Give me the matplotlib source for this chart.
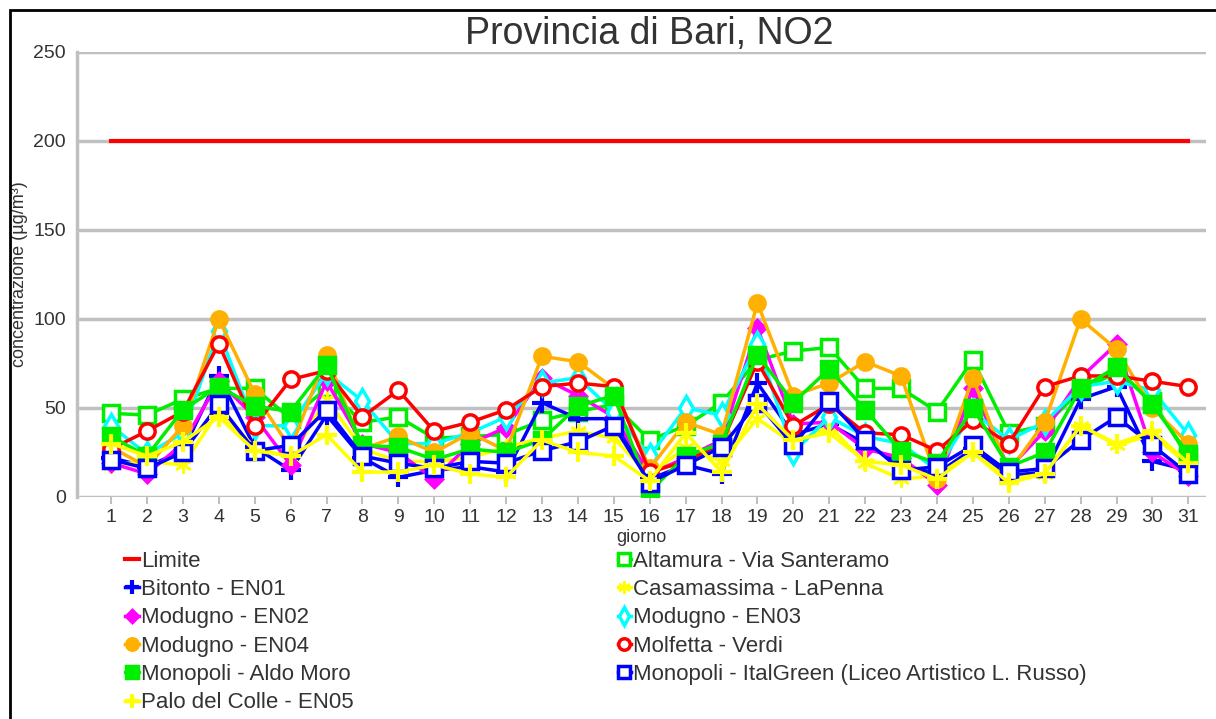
import matplotlib
matplotlib.use('Agg')
import matplotlib.pyplot as plt
from matplotlib.patches import Rectangle
import numpy as np

plt.rcParams['font.family'] = ['Liberation Sans', 'DejaVu Sans']

# Giorni del mese
giorni = np.arange(1, 32)
limite = [200] * 31

altamura = [47, 46, 55, 61, 61, 44, 61, 42, 45, 33, 34, 35, 43, 48, 52, 32,
            40, 53, 77, 82, 84, 61, 61, 48, 77, 36, 40, 60, 70, 54, 22]
bitonto = [22, 17, 26, 68, 28, 15, 46, 22, 11, 15, 17, 14, 53, 44, 44, 10,
           18, 13, 64, 35, 41, 30, 18, 13, 27, 12, 14, 55, 62, 20, 15]
casamassima = [18, 20, 18, 48, 28, 22, 55, 27, 20, 20, 22, 28, 33, 37, 33, 12,
               28, 20, 44, 30, 40, 19, 10, 12, 25, 10, 13, 40, 29, 35, 18]
modugno_en02 = [19, 13, 30, 65, 45, 18, 65, 30, 25, 10, 30, 39, 67, 57, 45, 13,
                22, 32, 95, 41, 42, 27, 22, 7, 61, 16, 37, 67, 86, 25, 12]
modugno_en03 = [40, 24, 36, 93, 40, 40, 70, 54, 30, 30, 36, 45, 64, 67, 48, 23,
                50, 46, 86, 25, 45, 34, 30, 15, 48, 32, 42, 62, 65, 60, 35]
modugno_en04 = [28, 17, 40, 100, 58, 27, 80, 27, 34, 25, 36, 26, 79, 76, 61, 16,
                42, 35, 109, 57, 64, 76, 68, 10, 67, 14, 42, 100, 83, 50, 30]
molfetta = [27, 37, 48, 86, 40, 66, 71, 45, 60, 37, 42, 49, 62, 64, 62, 14,
            20, 30, 76, 40, 52, 36, 35, 26, 43, 30, 62, 68, 68, 65, 62]
monopoli_am = [34, 23, 49, 62, 51, 48, 74, 29, 28, 21, 27, 25, 32, 51, 57, 3,
               23, 30, 80, 53, 72, 49, 26, 19, 50, 17, 25, 61, 73, 52, 24]
monopoli_ig = [21, 16, 25, 52, 26, 29, 49, 23, 19, 16, 20, 19, 26, 31, 40, 8,
               18, 28, 53, 29, 54, 32, 15, 17, 29, 14, 16, 32, 45, 29, 13]
palo = [30, 23, 31, 45, 26, 23, 35, 14, 14, 18, 13, 11, 32, 25, 23, 9,
        36, 14, 52, 32, 36, 20, 18, 10, 25, 8, 13, 40, 30, 37, 19]

# (label, dati, colore, marker, riempito)
serie = [
    ('Altamura - Via Santeramo', altamura, '#00ee00', 's', False),
    ('Bitonto - EN01', bitonto, '#0000ff', '+', True),
    ('Casamassima - LaPenna', casamassima, '#ffff00', (6, 2, 0), True),
    ('Modugno - EN02', modugno_en02, '#ff00ff', 'D', True),
    ('Modugno - EN03', modugno_en03, '#00ffff', 'd', False),
    ('Modugno - EN04', modugno_en04, '#ffb000', 'o', True),
    ('Molfetta - Verdi', molfetta, '#ff0000', 'o', False),
    ('Monopoli - Aldo Moro', monopoli_am, '#00ee00', 's', True),
    ('Monopoli - ItalGreen (Liceo Artistico L. Russo)', monopoli_ig, '#0000ff', 's', False),
    ('Palo del Colle - EN05', palo, '#ffff00', '+', True),
]

fig = plt.figure(figsize=(12.16, 7.19), dpi=100)
ax = fig.add_axes([0.0633, 0.3088, 0.9287, 0.6189])

handles = []
h, = ax.plot(giorni, limite, color='#ff0000', lw=3, label='Limite')
handles.append(h)

for label, dati, col, mk, filled in serie:
    size = 11
    mew = 2.5
    if mk == '+':
        size = 14
        mew = 3
    if mk == 'D':
        size = 8
    if mk == 'd':
        size = 12
    if mk == (6, 2, 0):
        size = 12
        mew = 2
    h, = ax.plot(giorni, dati, color=col, lw=2.5, marker=mk, markersize=size,
                 markeredgewidth=mew, markeredgecolor=col,
                 markerfacecolor=col if filled else 'white',
                 fillstyle='full', label=label)
    handles.append(h)

ax.set_xlim(0.05, 31.5)
ax.set_ylim(0, 250)
ax.set_yticks(np.arange(0, 251, 50))
ax.set_xticks(giorni)
ax.tick_params(axis='y', length=0, labelsize=14, colors='#333333', pad=8)
ax.tick_params(axis='x', length=5, width=1.5, color='#c0c0c0',
               labelsize=14, labelcolor='#333333')
ax.grid(axis='y', color='#c0c0c0', lw=2.5)
ax.set_axisbelow(True)
for s in ['top', 'right', 'bottom']:
    ax.spines[s].set_visible(False)
ax.spines['left'].set_color('#c0c0c0')
ax.spines['left'].set_linewidth(2.5)

ax.set_title('Provincia di Bari, NO2', fontsize=27, color='#333333', pad=4, x=0.507)
ax.set_xlabel('giorno', fontsize=13, color='#333333', labelpad=2)
ax.set_ylabel('concentrazione (µg/m³)', fontsize=13, color='#333333', labelpad=4)

# legenda su due colonne, riempite per riga
col1 = handles[0::2]
col2 = handles[1::2]
leg_kw = dict(frameon=False, fontsize=16, handlelength=0.6, handletextpad=0.1,
              labelspacing=0.33, markerscale=0.75, borderpad=0, borderaxespad=0,
              labelcolor='#333333')
leg1 = fig.legend(handles=col1, loc='upper left',
                  bbox_to_anchor=(0.103, 0.234), **leg_kw)
leg2 = fig.legend(handles=col2, loc='upper left',
                  bbox_to_anchor=(0.508, 0.234), **leg_kw)

# cornice nera
fig.patches.append(Rectangle((10 / 1216, -0.1), 1.2, 1 - 10 / 719 + 0.1,
                             transform=fig.transFigure, fill=False,
                             edgecolor='black', lw=2))

fig.savefig('out.png', dpi=100)
